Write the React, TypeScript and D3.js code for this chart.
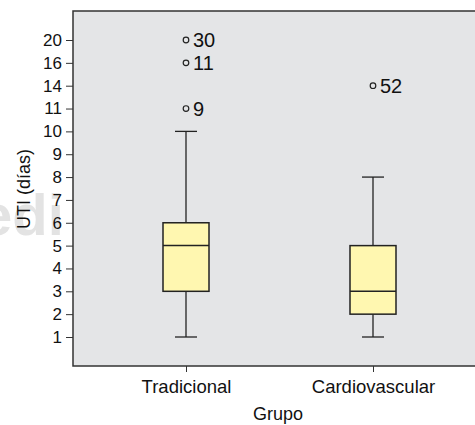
import React from 'react';
import * as d3 from 'd3';

// ordinal y-axis levels as drawn by SPSS
const yLevels = ['1', '2', '3', '4', '5', '6', '7', '8', '9', '10', '11', '14', '16', '20'];
const groups = ['Tradicional', 'Cardiovascular'];
const whiskerLow = ['1', '1'];
const q1 = ['3', '2'];
const median = ['5', '3'];
const q3 = ['6', '5'];
const whiskerHigh = ['10', '8'];
const outlierGroup = ['Tradicional', 'Tradicional', 'Tradicional', 'Cardiovascular'];
const outlierValue = ['20', '16', '11', '14'];
const outlierLabel = ['30', '11', '9', '52'];

const FONT = '"Liberation Sans", Arial, sans-serif';

export default function App() {
  const ref = React.useRef<SVGSVGElement>(null);

  React.useEffect(() => {
    const svg = d3.select(ref.current);
    svg.selectAll('*').remove();

    const left = 73, top = 11, right = 486, bottom = 366;

    const y = d3.scalePoint().domain(yLevels).range([337, 40]);
    const x = d3.scalePoint().domain(groups).range([186, 373]);

    // watermark
    svg.append('text')
      .attr('x', -20).attr('y', 235)
      .attr('font-family', 'Arial, sans-serif')
      .attr('font-weight', 'bold')
      .attr('font-size', 58)
      .attr('fill', '#e3e3e3')
      .text('edi');

    svg.append('rect')
      .attr('x', left).attr('y', top)
      .attr('width', right - left).attr('height', bottom - top)
      .attr('fill', '#e4e5e7')
      .attr('stroke', '#333')
      .attr('stroke-width', 1.5);

    const yAxis = svg.append('g')
      .attr('transform', `translate(${left},0)`)
      .call(d3.axisLeft(y).tickSize(7).tickPadding(4));
    yAxis.select('.domain').remove();
    yAxis.selectAll('line').attr('stroke', '#333');
    yAxis.selectAll('text')
      .attr('font-family', FONT).attr('font-size', 17).attr('fill', '#111');

    const xAxis = svg.append('g')
      .attr('transform', `translate(0,${bottom})`)
      .call(d3.axisBottom(x).tickSize(6).tickPadding(8));
    xAxis.select('.domain').remove();
    xAxis.selectAll('line').attr('stroke', '#333');
    xAxis.selectAll('text')
      .attr('font-family', FONT).attr('font-size', 18.5).attr('fill', '#111');

    const bw = 46, cap = 22;
    groups.forEach((g, i) => {
      const cx = x(g)!;
      const stroke = '#222';
      svg.append('line')
        .attr('x1', cx).attr('x2', cx)
        .attr('y1', y(q3[i])!).attr('y2', y(whiskerHigh[i])!)
        .attr('stroke', stroke).attr('stroke-width', 1.3);
      svg.append('line')
        .attr('x1', cx).attr('x2', cx)
        .attr('y1', y(q1[i])!).attr('y2', y(whiskerLow[i])!)
        .attr('stroke', stroke).attr('stroke-width', 1.3);
      [whiskerHigh[i], whiskerLow[i]].forEach(v => {
        svg.append('line')
          .attr('x1', cx - cap / 2).attr('x2', cx + cap / 2)
          .attr('y1', y(v)!).attr('y2', y(v)!)
          .attr('stroke', stroke).attr('stroke-width', 1.3);
      });
      svg.append('rect')
        .attr('x', cx - bw / 2).attr('y', y(q3[i])!)
        .attr('width', bw).attr('height', y(q1[i])! - y(q3[i])!)
        .attr('fill', '#fff7b0')
        .attr('stroke', stroke).attr('stroke-width', 1.5);
      svg.append('line')
        .attr('x1', cx - bw / 2).attr('x2', cx + bw / 2)
        .attr('y1', y(median[i])!).attr('y2', y(median[i])!)
        .attr('stroke', stroke).attr('stroke-width', 1.5);
    });

    outlierValue.forEach((v, i) => {
      const cx = x(outlierGroup[i])!;
      const cy = y(v)!;
      svg.append('circle')
        .attr('cx', cx).attr('cy', cy).attr('r', 2.8)
        .attr('fill', 'none').attr('stroke', '#222').attr('stroke-width', 1.2);
      svg.append('text')
        .attr('x', cx + 7).attr('y', cy + 7)
        .attr('font-family', FONT).attr('font-size', 20).attr('fill', '#111')
        .text(outlierLabel[i]);
    });

    svg.append('text')
      .attr('transform', 'translate(30,189) rotate(-90)')
      .attr('text-anchor', 'middle')
      .attr('font-family', FONT).attr('font-size', 18).attr('fill', '#111')
      .text('UTI (días)');

    svg.append('text')
      .attr('x', 278).attr('y', 420)
      .attr('text-anchor', 'middle')
      .attr('font-family', FONT).attr('font-size', 18).attr('fill', '#111')
      .text('Grupo');
  }, []);

  return (
    <svg ref={ref} width={475} height={425}
      style={{ position: 'absolute', left: 0, top: 0, background: '#fff' }} />
  );
}
